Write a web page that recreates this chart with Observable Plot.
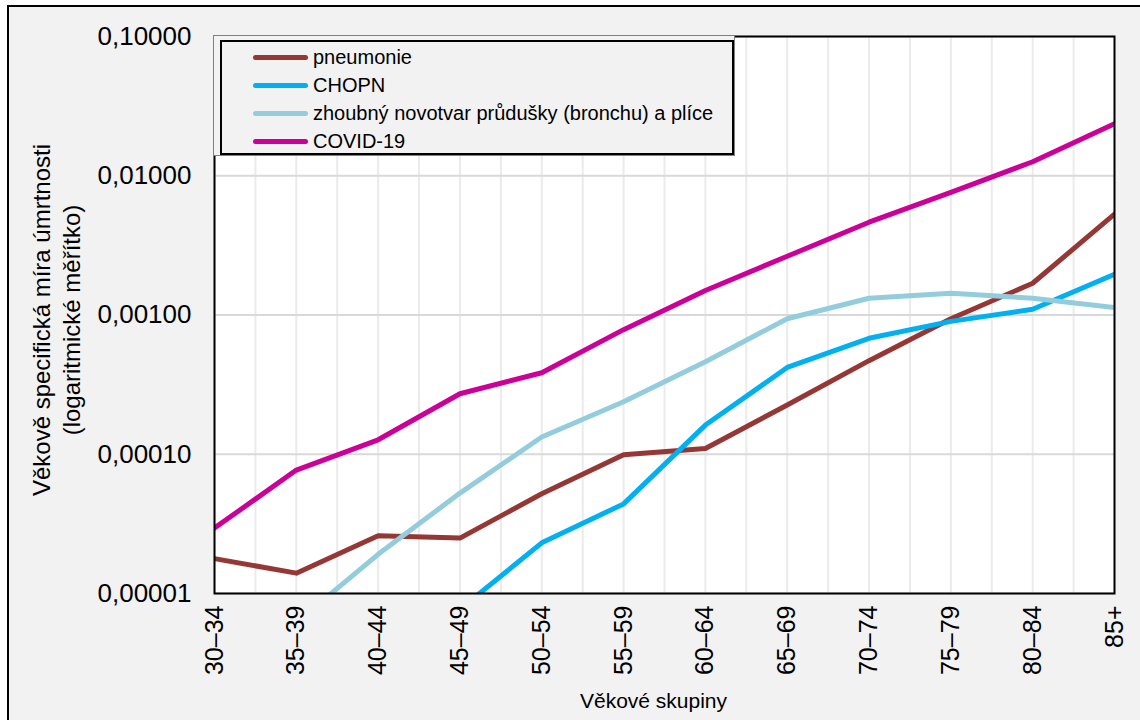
<!DOCTYPE html>
<html>
<head>
<meta charset="utf-8">
<script src="https://cdn.jsdelivr.net/npm/d3@7"></script>
<script src="https://cdn.jsdelivr.net/npm/@observablehq/plot@0.6"></script>
<style>
  html, body { margin: 0; padding: 0; background: #ffffff; overflow: hidden; width: 1140px; height: 720px; }
  #wrap { position: relative; width: 1140px; height: 720px; overflow: hidden; font-family: "Liberation Sans", Arial, sans-serif; }
  #bg { position: absolute; left: 7px; top: 5px; width: 1200px; height: 800px; border-left: 2px solid #000; border-top: 2px solid #000; background: #f2f2f2; }
  #chart { position: absolute; left: 0; top: 0; }
  #ytitle { position: absolute; left: 57px; top: 320px; width: 420px; transform: translate(-50%, -50%) rotate(-90deg); text-align: center; font-size: 24px; line-height: 30px; color: #000; white-space: pre; }
  #legOuter { position: absolute; left: 213px; top: 35px; width: 520px; height: 119px; border: 1px solid #808080; background: #f2f2f2; }
  #legInner { position: absolute; left: 220px; top: 40px; width: 510px; height: 111px; border: 2px solid #000; background: #f2f2f2; }
  .item { position: absolute; left: 31px; height: 28px; display: flex; align-items: center; font-size: 20px; color: #000; white-space: nowrap; }
  .sw { width: 55px; height: 5px; border-radius: 3px; margin-right: 5px; }
</style>
</head>
<body>
<div id="wrap">
  <div id="bg"></div>
  <div id="chart"></div>
  <div id="ytitle"></div>
  <div id="legOuter"></div>
  <div id="legInner"></div>
</div>
<script>
const ageGroups = ["30–34","35–39","40–44","45–49","50–54","55–59","60–64","65–69","70–74","75–79","80–84","85+"];
const seriesNames = ["pneumonie","CHOPN","zhoubný novotvar průdušky (bronchu) a plíce","COVID-19"];
const seriesColors = ["#953735","#00b0f0","#93cddd","#cc0099"];
const pneumonie = [1.78e-5, 1.40e-5, 2.60e-5, 2.50e-5, 5.2e-5, 9.9e-5, 1.10e-4, 2.26e-4, 4.7e-4, 9.4e-4, 1.69e-3, 5.3e-3];
const chopn     = [null, null, null, 7.7e-6, 2.31e-5, 4.4e-5, 1.62e-4, 4.2e-4, 6.8e-4, 9.0e-4, 1.10e-3, 1.96e-3];
const zhoubny   = [null, 6.2e-6, 1.91e-5, 5.26e-5, 1.33e-4, 2.38e-4, 4.62e-4, 9.4e-4, 1.32e-3, 1.43e-3, 1.32e-3, 1.13e-3];
const covid     = [2.95e-5, 7.7e-5, 1.27e-4, 2.72e-4, 3.85e-4, 7.85e-4, 1.50e-3, 2.64e-3, 4.64e-3, 7.6e-3, 1.26e-2, 2.36e-2];
const yTicks = [0.00001, 0.0001, 0.001, 0.01, 0.1];
const xTitle = "Věkové skupiny";
const yTitle = "Věkově specifická míra úmrtnosti\n(logaritmické měřítko)";

const seriesValues = [pneumonie, chopn, zhoubny, covid];
const rows = [];
seriesNames.forEach((name, s) => {
  seriesValues[s].forEach((v, i) => rows.push({series: name, i, value: v}));
});

const n = ageGroups.length;
const plot = Plot.plot({
  width: 1140,
  height: 720,
  marginLeft: 214,
  marginRight: 26,
  marginTop: 36,
  marginBottom: 127,
  style: {background: "transparent", fontFamily: "'Liberation Sans', Arial, sans-serif", fontSize: "25px", color: "#000", overflow: "visible"},
  x: {type: "linear", domain: [0, n - 1]},
  y: {type: "log", domain: [yTicks[0], yTicks[yTicks.length - 1]]},
  color: {domain: seriesNames, range: seriesColors},
  marks: [
    Plot.frame({fill: "white", stroke: null}),
    Plot.ruleX(d3.range(0, n - 0.75, 0.5), {stroke: "#ebebeb", strokeWidth: 2}),
    Plot.ruleY(yTicks, {stroke: "#d9d9d9", strokeWidth: 2}),
    Plot.line(rows, {x: "i", y: "value", z: "series", stroke: "series", strokeWidth: 5, clip: true}),
    Plot.frame({stroke: "#000", strokeWidth: 2}),
    Plot.axisY({ticks: yTicks, tickFormat: d => d.toFixed(5).replace(".", ","), tickSize: 0, tickPadding: 23, fontSize: 26, label: null}),
    Plot.axisX({ticks: d3.range(n), tickFormat: i => ageGroups[i], tickRotate: -90, tickSize: 0, tickPadding: 12, fontSize: 25, label: null}),
    Plot.text([xTitle], {frameAnchor: "bottom", dx: -11, dy: 114, fontSize: 21, fill: "#000"})
  ]
});
document.getElementById("chart").appendChild(plot);
document.getElementById("ytitle").textContent = yTitle;

const inner = document.getElementById("legInner");
seriesNames.forEach((name, s) => {
  const item = document.createElement("div");
  item.className = "item";
  item.style.top = (1 + s * 28) + "px";
  const sw = document.createElement("div");
  sw.className = "sw";
  sw.style.background = seriesColors[s];
  item.appendChild(sw);
  item.appendChild(document.createTextNode(name));
  inner.appendChild(item);
});
</script>
</body>
</html>
